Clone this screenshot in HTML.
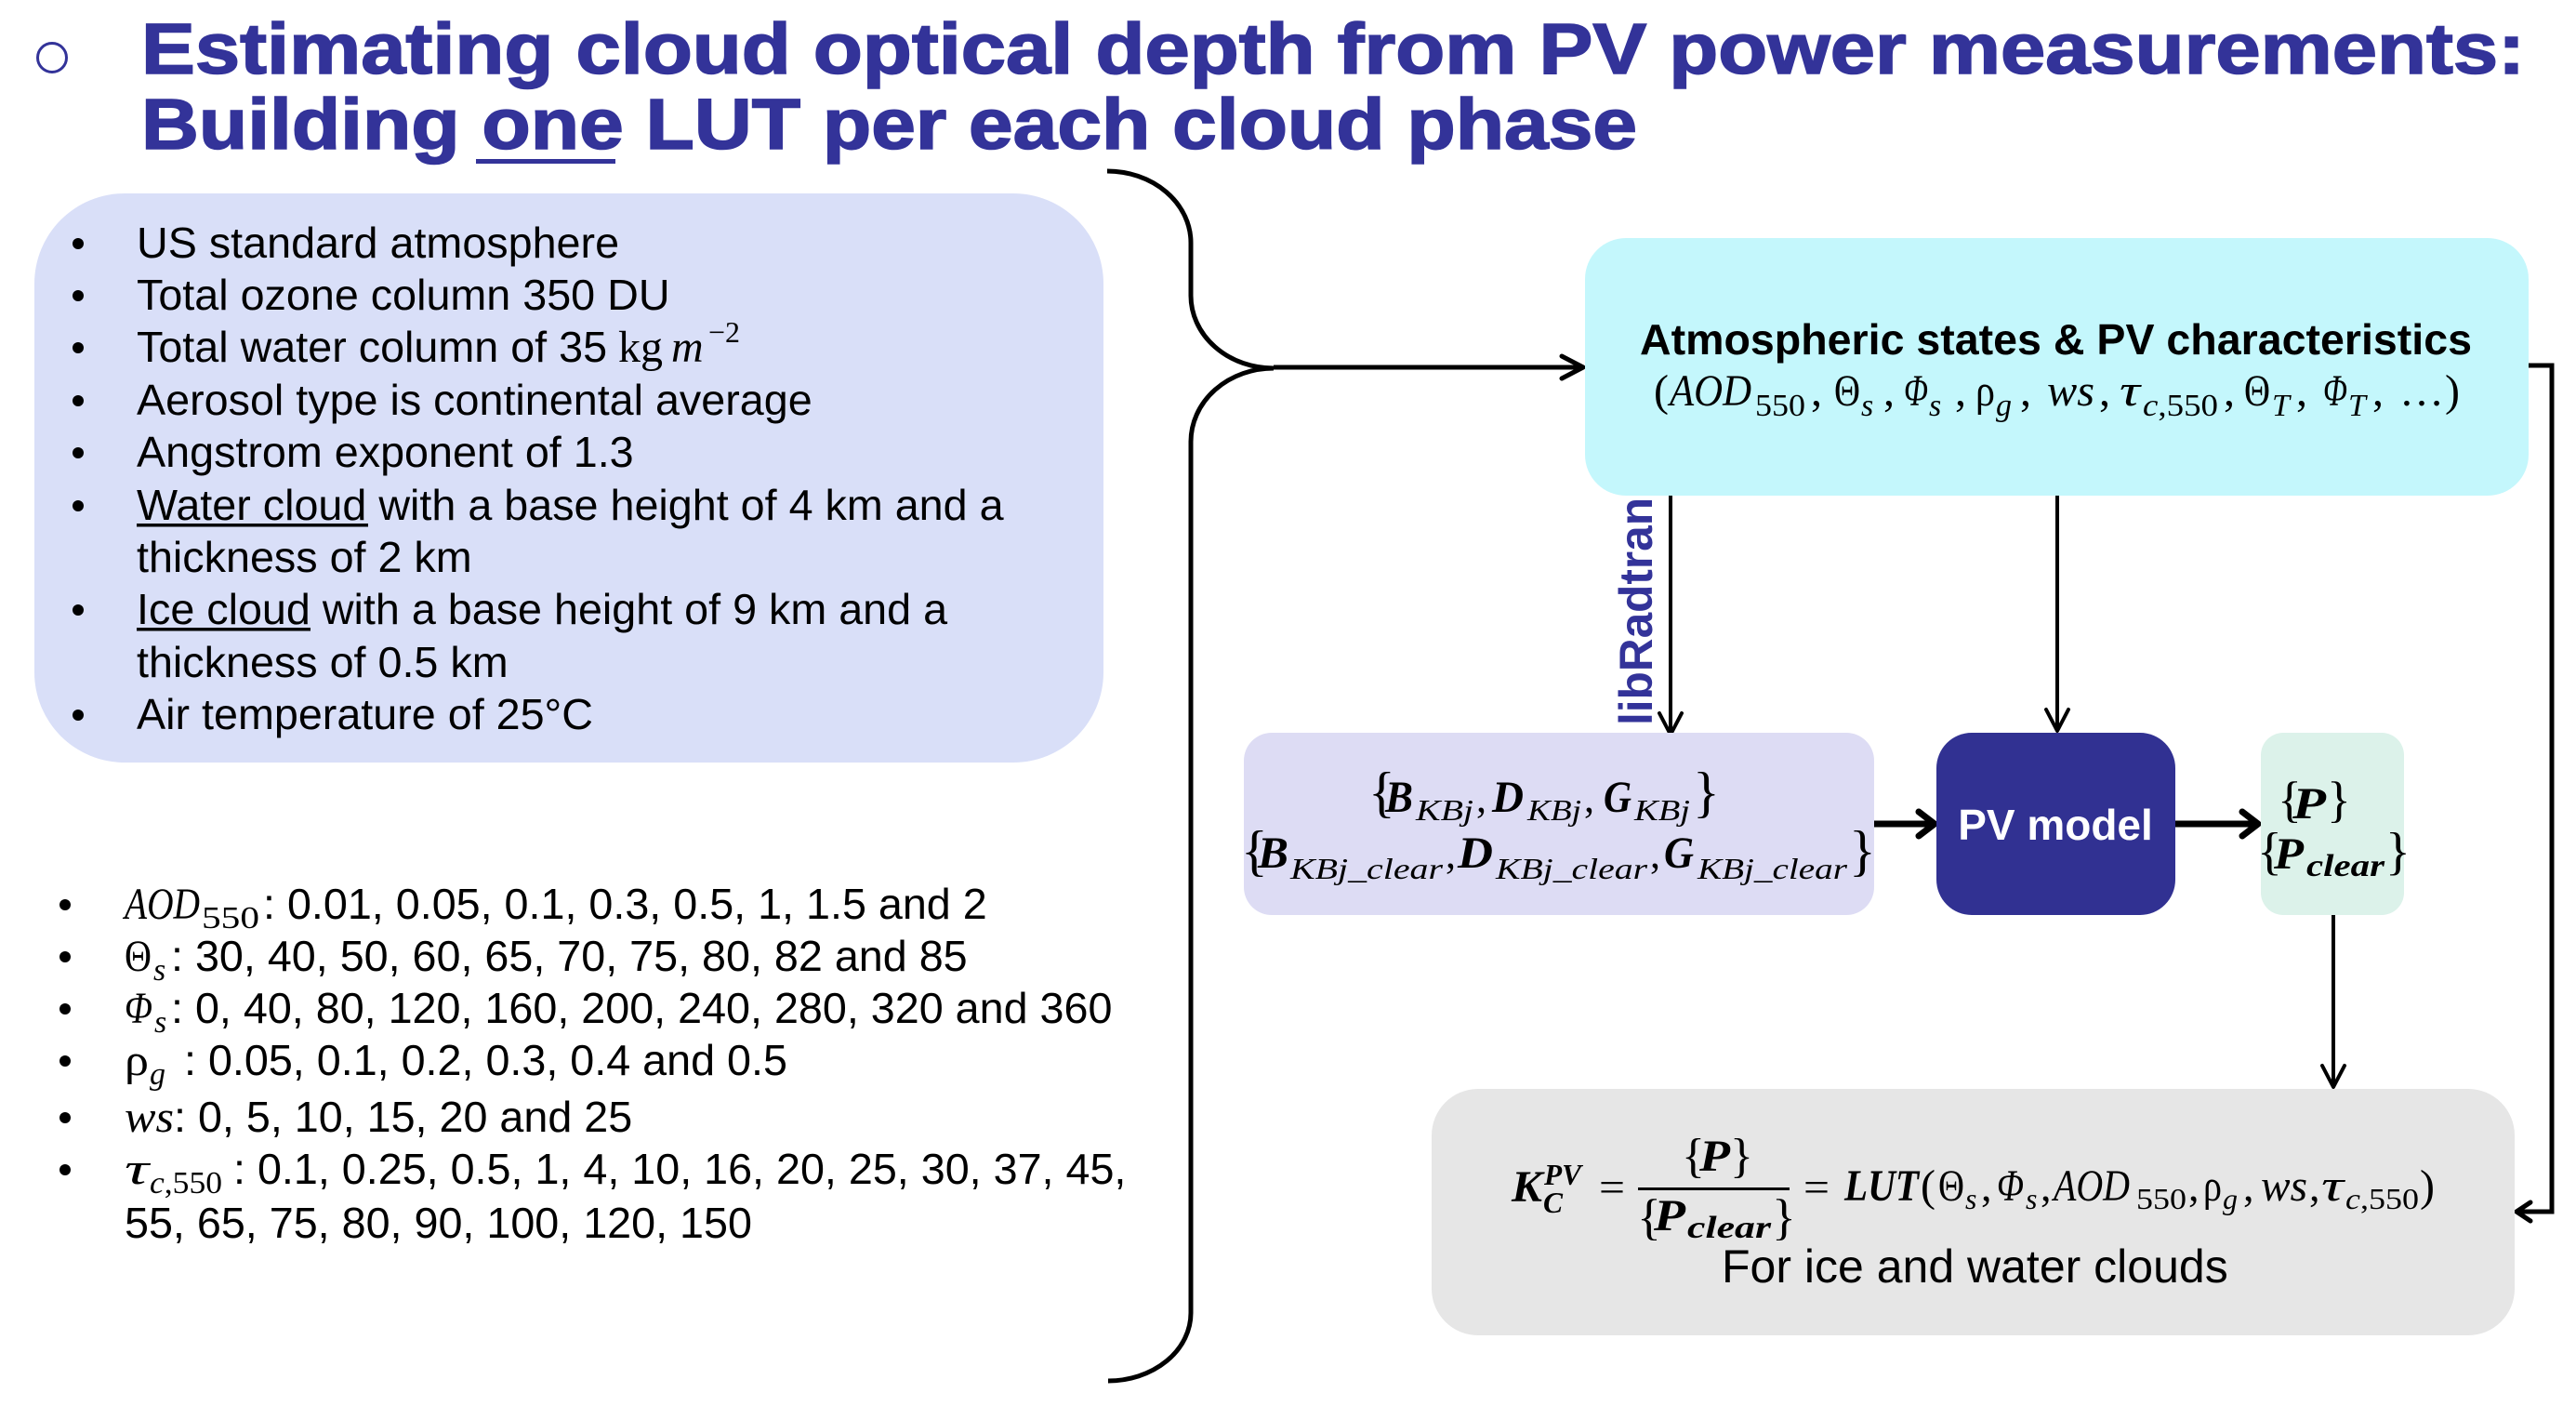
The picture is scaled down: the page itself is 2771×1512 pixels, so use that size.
<!DOCTYPE html>
<html>
<head>
<meta charset="utf-8">
<style>
html,body{margin:0;padding:0;background:#ffffff;}
svg{display:block;}
.s{font-family:"Liberation Sans",Arial,sans-serif;}
.m{font-family:"Liberation Serif","DejaVu Serif",serif;}
.i{font-style:italic;}
.b{font-weight:bold;}
</style>
</head>
<body>
<svg width="2771" height="1512" viewBox="0 0 2771 1512" xmlns="http://www.w3.org/2000/svg">
<rect x="0" y="0" width="2771" height="1512" fill="#ffffff"/>

<!-- Title -->
<circle cx="56" cy="62" r="15.5" fill="none" stroke="#333399" stroke-width="3"/>
<text class="s b" x="152" y="79" font-size="77" fill="#333399" stroke="#333399" stroke-width="1.6" textLength="2564" lengthAdjust="spacingAndGlyphs">Estimating cloud optical depth from PV power measurements:</text>
<text class="s b" x="152" y="160" font-size="77" fill="#333399" stroke="#333399" stroke-width="1.6" textLength="1609" lengthAdjust="spacingAndGlyphs">Building one LUT per each cloud phase</text>
<rect x="512" y="171" width="150" height="5" fill="#333399"/>

<!-- Left blue box -->
<rect x="37" y="208" width="1150" height="612" rx="97" ry="97" fill="#d9dff8"/>
<g fill="#000">
<circle cx="84" cy="262" r="6"/>
<circle cx="84" cy="318" r="6"/>
<circle cx="84" cy="374" r="6"/>
<circle cx="84" cy="431" r="6"/>
<circle cx="84" cy="487" r="6"/>
<circle cx="84" cy="544" r="6"/>
<circle cx="84" cy="656" r="6"/>
<circle cx="84" cy="769" r="6"/>
</g>
<g class="s" font-size="46.7" fill="#000">
<text x="147" y="277">US standard atmosphere</text>
<text x="147" y="333">Total ozone column 350 DU</text>
<text x="147" y="389">Total water column of 35</text>
<text x="147" y="446">Aerosol type is continental average</text>
<text x="147" y="502">Angstrom exponent of 1.3</text>
<text x="147" y="559">Water cloud with a base height of 4 km and a</text>
<text x="147" y="615">thickness of 2 km</text>
<text x="147" y="671">Ice cloud with a base height of 9 km and a</text>
<text x="147" y="728">thickness of 0.5 km</text>
<text x="147" y="784">Air temperature of 25°C</text>
</g>
<text class="m" x="665" y="389" font-size="48" fill="#000">kg</text>
<text class="m i" x="722" y="389" font-size="48" fill="#000">m</text>
<text class="m" x="762" y="368" font-size="32" fill="#000">−2</text>
<rect x="147" y="563" width="249" height="3.5" fill="#000"/>
<rect x="147" y="675" width="187" height="3.5" fill="#000"/>

<!-- Lower list -->
<g fill="#000">
<circle cx="70" cy="973" r="6"/>
<circle cx="70" cy="1029" r="6"/>
<circle cx="70" cy="1085" r="6"/>
<circle cx="70" cy="1141" r="6"/>
<circle cx="70" cy="1202" r="6"/>
<circle cx="70" cy="1258" r="6"/>
</g>
<!-- line 1 -->
<text class="m i" x="134" y="988" font-size="48" textLength="81" lengthAdjust="spacingAndGlyphs">AOD</text>
<text class="m" x="217" y="998" font-size="34" textLength="62" lengthAdjust="spacingAndGlyphs">550</text>
<text class="s" x="283" y="988" font-size="46.7">: 0.01, 0.05, 0.1, 0.3, 0.5, 1, 1.5 and 2</text>
<!-- line 2 -->
<text class="m" x="134" y="1044" font-size="48" textLength="29" lengthAdjust="spacingAndGlyphs">Θ</text>
<text class="m i" x="165" y="1054" font-size="34">s</text>
<text class="s" x="184" y="1044" font-size="46.7">: 30, 40, 50, 60, 65, 70, 75, 80, 82 and 85</text>
<!-- line 3 -->
<text class="m i" x="134" y="1100" font-size="48" textLength="30" lengthAdjust="spacingAndGlyphs">Φ</text>
<text class="m i" x="166" y="1110" font-size="34">s</text>
<text class="s" x="184" y="1100" font-size="46.7">: 0, 40, 80, 120, 160, 200, 240, 280, 320 and 360</text>
<!-- line 4 -->
<text class="m" x="134" y="1156" font-size="48" textLength="26" lengthAdjust="spacingAndGlyphs">ρ</text>
<text class="m i" x="161" y="1166" font-size="34">g</text>
<text class="s" x="198" y="1156" font-size="46.7">: 0.05, 0.1, 0.2, 0.3, 0.4 and 0.5</text>
<!-- line 5 -->
<text class="m i" x="134" y="1217" font-size="48" textLength="53" lengthAdjust="spacingAndGlyphs">ws</text>
<text class="s" x="187" y="1217" font-size="46.7">: 0, 5, 10, 15, 20 and 25</text>
<!-- line 6 -->
<text class="m i" x="134" y="1273" font-size="48" textLength="26" lengthAdjust="spacingAndGlyphs">τ</text>
<text class="m" x="161" y="1283" font-size="34" textLength="78" lengthAdjust="spacingAndGlyphs"><tspan font-style="italic">c</tspan>,550</text>
<text class="s" x="251" y="1273" font-size="46.7">: 0.1, 0.25, 0.5, 1, 4, 10, 16, 20, 25, 30, 37, 45,</text>
<!-- line 7 -->
<text class="s" x="134" y="1331" font-size="46.7">55, 65, 75, 80, 90, 100, 120, 150</text>

<!-- Brace -->
<path d="M1191,184 A90,77 0 0 1 1281,261 L1281,318 A89,78 0 0 0 1370,396 A89,79 0 0 0 1281,475 L1281,1412 A89,73 0 0 1 1192,1485" fill="none" stroke="#000" stroke-width="5" stroke-linecap="butt"/>
<line x1="1370" y1="395" x2="1701" y2="395" stroke="#000" stroke-width="5"/>
<polyline points="1680,383 1703,395 1680,407" fill="none" stroke="#000" stroke-width="5" stroke-linecap="round" stroke-linejoin="round"/>

<!-- Cyan box -->
<rect x="1705" y="256" width="1015" height="277" rx="44" ry="44" fill="#c4f7fc"/>
<text class="s b" x="1764" y="381" font-size="46" fill="#000" textLength="895" lengthAdjust="spacingAndGlyphs">Atmospheric states &amp; PV characteristics</text>
<g class="m" fill="#000" font-size="48">
<text x="1779" y="436">(</text>
<text class="i" x="1796" y="436" textLength="88" lengthAdjust="spacingAndGlyphs">AOD</text>
<text x="1888" y="447" font-size="34" textLength="54" lengthAdjust="spacingAndGlyphs">550</text>
<text x="1948" y="436">,</text>
<text x="1973" y="436" textLength="28" lengthAdjust="spacingAndGlyphs">Θ</text>
<text class="i" x="2002" y="447" font-size="34">s</text>
<text x="2026" y="436">,</text>
<text class="i" x="2048" y="436" textLength="26" lengthAdjust="spacingAndGlyphs">Φ</text>
<text class="i" x="2075" y="447" font-size="34">s</text>
<text x="2103" y="436">,</text>
<text x="2125" y="436" textLength="21" lengthAdjust="spacingAndGlyphs">ρ</text>
<text class="i" x="2147" y="447" font-size="34">g</text>
<text x="2173" y="436">,</text>
<text class="i" x="2202" y="436" textLength="51" lengthAdjust="spacingAndGlyphs">ws</text>
<text x="2258" y="436">,</text>
<text class="i" x="2280" y="436" textLength="22" lengthAdjust="spacingAndGlyphs">τ</text>
<text x="2305" y="447" font-size="34" textLength="81" lengthAdjust="spacingAndGlyphs"><tspan font-style="italic">c</tspan>,550</text>
<text x="2392" y="436">,</text>
<text x="2414" y="436" textLength="28" lengthAdjust="spacingAndGlyphs">Θ</text>
<text class="i" x="2444" y="447" font-size="34">T</text>
<text x="2470" y="436">,</text>
<text class="i" x="2499" y="436" textLength="26" lengthAdjust="spacingAndGlyphs">Φ</text>
<text class="i" x="2526" y="447" font-size="34">T</text>
<text x="2552" y="436">,</text>
<text x="2581" y="436" textLength="48" lengthAdjust="spacingAndGlyphs">…</text>
<text x="2630" y="436">)</text>
</g>

<!-- Right connector to gray box -->
<polyline points="2720,393 2745,393 2745,1303 2710,1303" fill="none" stroke="#000" stroke-width="5"/>
<polyline points="2722,1293 2707,1303 2722,1313" fill="none" stroke="#000" stroke-width="5" stroke-linecap="round" stroke-linejoin="round"/>

<!-- libRadtran arrow -->
<line x1="1797" y1="533" x2="1797" y2="788" stroke="#000" stroke-width="4"/>
<polyline points="1785,767 1797,790 1809,767" fill="none" stroke="#000" stroke-width="4" stroke-linecap="round" stroke-linejoin="round"/>
<text class="s b" x="1777" y="780" font-size="50" fill="#333399" transform="rotate(-90 1777 780)" textLength="245" lengthAdjust="spacingAndGlyphs">libRadtran</text>

<!-- Middle down arrow -->
<line x1="2213" y1="533" x2="2213" y2="785" stroke="#000" stroke-width="4"/>
<polyline points="2201,763 2213,786 2225,763" fill="none" stroke="#000" stroke-width="4" stroke-linecap="round" stroke-linejoin="round"/>

<!-- Lavender box -->
<rect x="1338" y="788" width="678" height="196" rx="30" ry="30" fill="#dddcf4"/>
<g class="m" fill="#000">
<text x="1472" y="872" font-size="60">{</text>
<text class="b i" x="1490" y="873" font-size="48" textLength="30" lengthAdjust="spacingAndGlyphs">B</text>
<text class="i" x="1523" y="882" font-size="32" textLength="62" lengthAdjust="spacingAndGlyphs">KBj</text>
<text x="1588" y="873" font-size="44">,</text>
<text class="b i" x="1605" y="873" font-size="48" textLength="34" lengthAdjust="spacingAndGlyphs">D</text>
<text class="i" x="1643" y="882" font-size="32" textLength="58" lengthAdjust="spacingAndGlyphs">KBj</text>
<text x="1704" y="873" font-size="44">,</text>
<text class="b i" x="1725" y="873" font-size="48" textLength="30" lengthAdjust="spacingAndGlyphs">G</text>
<text class="i" x="1758" y="882" font-size="32" textLength="60" lengthAdjust="spacingAndGlyphs">KBj</text>
<text x="1821" y="872" font-size="60">}</text>

<text x="1335" y="935" font-size="60">{</text>
<text class="b i" x="1353" y="933" font-size="48" textLength="33" lengthAdjust="spacingAndGlyphs">B</text>
<text class="i" x="1388" y="945" font-size="32" textLength="164" lengthAdjust="spacingAndGlyphs">KBj_clear</text>
<text x="1555" y="933" font-size="44">,</text>
<text class="b i" x="1568" y="933" font-size="48" textLength="38" lengthAdjust="spacingAndGlyphs">D</text>
<text class="i" x="1609" y="945" font-size="32" textLength="163" lengthAdjust="spacingAndGlyphs">KBj_clear</text>
<text x="1775" y="933" font-size="44">,</text>
<text class="b i" x="1790" y="933" font-size="48" textLength="32" lengthAdjust="spacingAndGlyphs">G</text>
<text class="i" x="1826" y="945" font-size="32" textLength="161" lengthAdjust="spacingAndGlyphs">KBj_clear</text>
<text x="1989" y="935" font-size="60">}</text>
</g>

<!-- Lavender -> PV arrow -->
<line x1="2016" y1="886" x2="2078" y2="886" stroke="#000" stroke-width="7"/>
<polyline points="2064,873 2081,886 2064,899" fill="none" stroke="#000" stroke-width="7" stroke-linecap="round" stroke-linejoin="round"/>

<!-- PV model box -->
<rect x="2083" y="788" width="257" height="196" rx="38" ry="38" fill="#313192"/>
<text class="s b" x="2211" y="903" font-size="46" fill="#ffffff" text-anchor="middle">PV model</text>

<!-- PV -> green arrow -->
<line x1="2340" y1="886" x2="2426" y2="886" stroke="#000" stroke-width="7"/>
<polyline points="2412,873 2429,886 2412,899" fill="none" stroke="#000" stroke-width="7" stroke-linecap="round" stroke-linejoin="round"/>

<!-- Green box -->
<rect x="2432" y="788" width="154" height="196" rx="24" ry="24" fill="#dcf2ea"/>
<g class="m" fill="#000">
<text x="2450" y="878" font-size="54">{</text>
<text class="b i" x="2466" y="880" font-size="48" textLength="36" lengthAdjust="spacingAndGlyphs">P</text>
<text x="2503" y="878" font-size="54">}</text>
<text x="2428" y="934" font-size="56">{</text>
<text class="b i" x="2446" y="934" font-size="48" textLength="32" lengthAdjust="spacingAndGlyphs">P</text>
<text class="b i" x="2481" y="942" font-size="34" textLength="84" lengthAdjust="spacingAndGlyphs">clear</text>
<text x="2566" y="934" font-size="56">}</text>
</g>

<!-- Green down arrow -->
<line x1="2510" y1="984" x2="2510" y2="1167" stroke="#000" stroke-width="4"/>
<polyline points="2498,1146 2510,1169 2522,1146" fill="none" stroke="#000" stroke-width="4" stroke-linecap="round" stroke-linejoin="round"/>

<!-- Gray box -->
<rect x="1540" y="1171" width="1165" height="265" rx="50" ry="50" fill="#e6e6e6"/>
<g class="m" fill="#000">
<text class="b i" x="1626" y="1292" font-size="48" textLength="33" lengthAdjust="spacingAndGlyphs">K</text>
<text class="b i" x="1661" y="1274" font-size="32" textLength="40" lengthAdjust="spacingAndGlyphs">PV</text>
<text class="b i" x="1660" y="1304" font-size="32" textLength="21" lengthAdjust="spacingAndGlyphs">C</text>
<text x="1720" y="1292" font-size="46" textLength="28" lengthAdjust="spacingAndGlyphs">=</text>

<text x="1809" y="1260" font-size="52">{</text>
<text class="b i" x="1828" y="1259" font-size="48" textLength="33" lengthAdjust="spacingAndGlyphs">P</text>
<text x="1861" y="1260" font-size="52">}</text>
<rect x="1762" y="1277" width="163" height="3" fill="#000"/>
<text x="1761" y="1327" font-size="54">{</text>
<text class="b i" x="1779" y="1323" font-size="48" textLength="34" lengthAdjust="spacingAndGlyphs">P</text>
<text class="b i" x="1815" y="1331" font-size="34" textLength="90" lengthAdjust="spacingAndGlyphs">clear</text>
<text x="1906" y="1327" font-size="54">}</text>

<text x="1940" y="1292" font-size="46" textLength="28" lengthAdjust="spacingAndGlyphs">=</text>
<text class="b i" x="1984" y="1291" font-size="48" textLength="80" lengthAdjust="spacingAndGlyphs">LUT</text>
<text x="2066" y="1291" font-size="48">(</text>
<text x="2085" y="1291" font-size="48" textLength="28" lengthAdjust="spacingAndGlyphs">Θ</text>
<text class="i" x="2114" y="1300" font-size="32">s</text>
<text x="2131" y="1291" font-size="46">,</text>
<text class="i" x="2148" y="1291" font-size="48" textLength="29" lengthAdjust="spacingAndGlyphs">Φ</text>
<text class="i" x="2179" y="1300" font-size="32">s</text>
<text x="2195" y="1291" font-size="46">,</text>
<text class="i" x="2209" y="1291" font-size="48" textLength="82" lengthAdjust="spacingAndGlyphs">AOD</text>
<text x="2298" y="1300" font-size="32" textLength="54" lengthAdjust="spacingAndGlyphs">550</text>
<text x="2354" y="1291" font-size="46">,</text>
<text x="2370" y="1291" font-size="48" textLength="20" lengthAdjust="spacingAndGlyphs">ρ</text>
<text class="i" x="2391" y="1300" font-size="32">g</text>
<text x="2413" y="1291" font-size="46">,</text>
<text class="i" x="2432" y="1291" font-size="48" textLength="50" lengthAdjust="spacingAndGlyphs">ws</text>
<text x="2484" y="1291" font-size="46">,</text>
<text class="i" x="2497" y="1291" font-size="48" textLength="24" lengthAdjust="spacingAndGlyphs">τ</text>
<text x="2523" y="1300" font-size="32" textLength="79" lengthAdjust="spacingAndGlyphs"><tspan font-style="italic">c</tspan>,550</text>
<text x="2603" y="1291" font-size="48">)</text>
</g>
<text class="s" x="1852" y="1379" font-size="50" fill="#000">For ice and water clouds</text>

</svg>
</body>
</html>
